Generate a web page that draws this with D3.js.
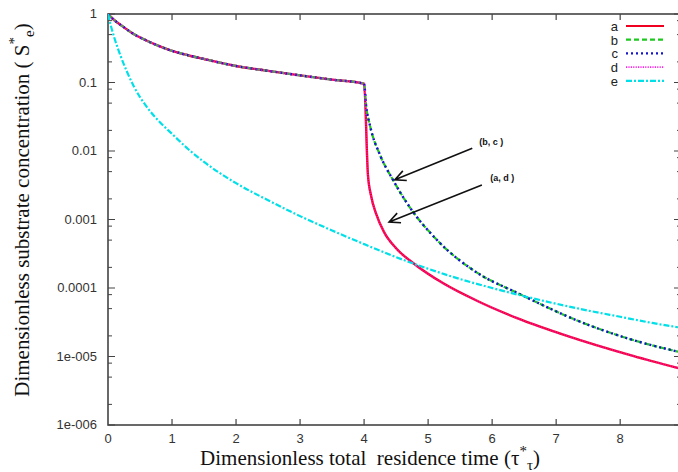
<!DOCTYPE html>
<html>
<head>
<meta charset="utf-8">
<script src="https://cdn.jsdelivr.net/npm/d3@7"></script>
<style>
    body { margin: 0; background: #fff; }
    svg { display: block; }
    .tick-label { font-family: "Liberation Sans", Arial, sans-serif; font-size: 13px; fill: #333; }
    .axis-title { font-family: "Liberation Serif", "Times New Roman", serif; font-size: 21px; fill: #111; }
    .note { font-family: "Liberation Sans", Arial, sans-serif; font-size: 9px; font-weight: bold; fill: #111; }
</style>
</head>
<body>
<div id="chart"></div>
<script>
// x tick values and y tick values / labels
var xTicks = [0, 1, 2, 3, 4, 5, 6, 7, 8];
var yTicks = [1, 0.1, 0.01, 0.001, 0.0001, 1e-5, 1e-6];
var yTickLabels = ["1", "0.1", "0.01", "0.001", "0.0001", "1e-005", "1e-006"];

// curves a and d (same values), b and c (same values)
var tauAD = [0, 0.1, 0.2, 0.4, 0.6, 0.8, 1.0, 1.25, 1.5, 2.0, 2.5, 3.0, 3.5, 4.0,
    4.06, 4.11, 4.19, 4.31, 4.5, 4.77, 5.23, 5.77, 6.39, 7.17, 8.2, 8.95];
var sAD = [1, 0.81, 0.69, 0.51, 0.41, 0.34, 0.29, 0.25, 0.22, 0.174, 0.148, 0.127, 0.11, 0.096,
    0.0045, 0.0022, 0.0012, 0.00066, 0.00038, 0.00023, 0.000118, 0.0000646, 0.0000363, 0.00002, 0.0000102, 0.0000066];

var tauBC = [0, 0.1, 0.2, 0.4, 0.6, 0.8, 1.0, 1.25, 1.5, 2.0, 2.5, 3.0, 3.5, 4.0,
    4.03, 4.09, 4.25, 4.45, 4.72, 5.14, 5.77, 6.39, 7.42, 8.2, 8.95];
var sBC = [1, 0.81, 0.69, 0.51, 0.41, 0.34, 0.29, 0.25, 0.22, 0.174, 0.148, 0.127, 0.11, 0.096,
    0.047, 0.024, 0.0087, 0.0038, 0.00148, 0.0005, 0.000166, 0.000085, 0.000031, 0.0000174, 0.0000115];

// curve e
var tauE = [0, 0.05, 0.1, 0.2, 0.3, 0.4, 0.6, 0.8, 1.0, 1.25, 1.5, 2.0, 2.5, 3.0, 3.5, 4.0,
    4.5, 5.0, 5.5, 6.0, 6.5, 7.0, 7.5, 8.0, 8.5, 8.95];
var sE = [1, 0.646, 0.447, 0.24, 0.141, 0.0891, 0.0447, 0.0269, 0.0178, 0.0107, 0.00692, 0.00339, 0.00191, 0.00112, 0.000692, 0.000437,
    0.000282, 0.000191, 0.000135, 0.0001, 0.0000759, 0.0000589, 0.0000468, 0.000038, 0.0000309, 0.0000263];

var seriesNames = ["a", "b", "c", "d", "e"];

// arrow annotations: [tail tau, tail S, tip tau, tip S], label position
var arrowBC = [5.69, 0.011, 4.48, 0.0038];
var arrowAD = [5.84, 0.0032, 4.39, 0.00092];
var labelBC = [5.8, 0.0135, "(b, c )"];
var labelAD = [5.97, 0.0041, "(a, d )"];

drawChart("chart");

function zip(xs, ys) {
    return xs.map((x, i) => ({ t: x, s: ys[i] }));
}

function drawChart(chartID) {
    var W = 678, H = 472;
    var margin = { top: 14, right: -3, bottom: 47, left: 108 };
    var width = W - margin.left - margin.right;
    var height = H - margin.top - margin.bottom;

    var svg = d3.select("#" + chartID)
        .append("svg")
        .attr("width", W)
        .attr("height", H);

    var g = svg.append("g")
        .attr("transform", "translate(" + margin.left + "," + margin.top + ")");

    var x = d3.scaleLinear().domain([0, 8.95]).range([0, width]);
    var y = d3.scaleLog().domain([1e-6, 1]).range([height, 0]);

    // minor ticks for log axis: 2, 5 and 8 in each decade
    var minor = [];
    yTicks.slice(1).forEach(function (v) {
        [2, 5, 8].forEach(function (m) { minor.push(v * m); });
    });

    var axisColor = "#444";

    // y ticks (left, inward) + mirrored on the right
    g.selectAll(".ymajor").data(yTicks).enter().append("path")
        .attr("d", d => "M0," + y(d) + "h7M" + width + "," + y(d) + "h-7")
        .attr("stroke", axisColor).attr("stroke-width", 1.2);
    g.selectAll(".yminor").data(minor).enter().append("path")
        .attr("d", d => "M0," + y(d) + "h4M" + width + "," + y(d) + "h-4")
        .attr("stroke", axisColor).attr("stroke-width", 1);

    // x ticks (bottom and top, inward)
    g.selectAll(".xmajor").data(xTicks.slice(1)).enter().append("path")
        .attr("d", d => "M" + x(d) + "," + height + "v-6M" + x(d) + ",0v6")
        .attr("stroke", axisColor).attr("stroke-width", 1.2);

    // border
    g.append("rect")
        .attr("width", width).attr("height", height)
        .attr("fill", "none").attr("stroke", axisColor).attr("stroke-width", 1.6);

    // tick labels
    g.selectAll(".ylab").data(yTicks).enter().append("text")
        .attr("class", "tick-label")
        .attr("x", -11).attr("y", d => y(d) + 4)
        .attr("text-anchor", "end")
        .text((d, i) => yTickLabels[i]);

    g.selectAll(".xlab").data(xTicks).enter().append("text")
        .attr("class", "tick-label")
        .attr("x", d => x(d)).attr("y", height + 18)
        .attr("text-anchor", "middle")
        .text(d => d);

    // curves
    var clipId = "plot-clip";
    svg.append("clipPath").attr("id", clipId)
        .append("rect").attr("width", width).attr("height", height);

    var line = d3.line()
        .x(d => x(d.t))
        .y(d => y(d.s))
        .curve(d3.curveMonotoneX);

    var styles = {
        a: { data: zip(tauAD, sAD), color: "#f00020", w: 2.4, dash: null },
        b: { data: zip(tauBC, sBC), color: "#1ec81e", w: 2.2, dash: "5,3" },
        c: { data: zip(tauBC, sBC), color: "#1414c8", w: 2.4, dash: "2,3" },
        d: { data: zip(tauAD, sAD), color: "#ff22ee", w: 2.2, dash: "1.2,1.2" },
        e: { data: zip(tauE, sE), color: "#00e0e8", w: 2.2, dash: "6,2,2,2" }
    };

    var plot = g.append("g").attr("clip-path", "url(#" + clipId + ")");
    seriesNames.forEach(function (name) {
        var st = styles[name];
        plot.append("path")
            .datum(st.data)
            .attr("d", line)
            .attr("fill", "none")
            .attr("stroke", st.color)
            .attr("stroke-width", st.w)
            .attr("stroke-opacity", name == "d" ? 0.6 : 1)
            .attr("stroke-dasharray", st.dash);
    });

    // legend
    var legend = svg.append("g");
    seriesNames.forEach(function (name, i) {
        var st = styles[name];
        var ly = 26 + i * 13.7;
        legend.append("text")
            .attr("class", "tick-label")
            .attr("x", 618).attr("y", ly + 5)
            .attr("text-anchor", "end")
            .style("fill", "#222")
            .text(name);
        legend.append("line")
            .attr("x1", 626).attr("x2", 664)
            .attr("y1", ly).attr("y2", ly)
            .attr("stroke", st.color)
            .attr("stroke-width", name == "d" ? 1.6 : 2.2)
            .attr("stroke-dasharray", st.dash);
    });

    // arrows with labels
    [arrowBC, arrowAD].forEach(function (a) {
        var x0 = x(a[0]), y0 = y(a[1]), x1 = x(a[2]), y1 = y(a[3]);
        var ang = Math.atan2(y0 - y1, x0 - x1);
        var len = 12, spread = 0.45;
        var p1 = [x1 + len * Math.cos(ang + spread), y1 + len * Math.sin(ang + spread)];
        var p2 = [x1 + len * Math.cos(ang - spread), y1 + len * Math.sin(ang - spread)];
        g.append("path")
            .attr("d", "M" + x0 + "," + y0 + "L" + x1 + "," + y1 +
                "M" + p1[0] + "," + p1[1] + "L" + x1 + "," + y1 + "L" + p2[0] + "," + p2[1])
            .attr("fill", "none")
            .attr("stroke", "#111")
            .attr("stroke-width", 1.6);
    });
    [labelBC, labelAD].forEach(function (l) {
        g.append("text")
            .attr("class", "note")
            .attr("x", x(l[0])).attr("y", y(l[1]) + 3)
            .text(l[2]);
    });

    // axis titles
    var xt = svg.append("text")
        .attr("class", "axis-title")
        .attr("x", 370).attr("y", 465)
        .attr("text-anchor", "middle")
        .attr("xml:space", "preserve");
    xt.append("tspan").text("Dimensionless total  residence time (\u03c4");
    xt.append("tspan").attr("dy", -9).style("font-size", "15px").text("*");
    xt.append("tspan").attr("dy", 14).style("font-size", "15px").text("\u03c4");
    xt.append("tspan").attr("dy", -5).text(")");

    var yt = svg.append("text")
        .attr("class", "axis-title")
        .attr("transform", "translate(29,210) rotate(-90)")
        .attr("text-anchor", "middle")
        .attr("xml:space", "preserve");
    yt.append("tspan").text("Dimensionless substrate concentration ( S");
    yt.append("tspan").attr("dy", -10).style("font-size", "15px").text("*");
    yt.append("tspan").attr("dy", 15).style("font-size", "15px").text("e");
    yt.append("tspan").attr("dy", -5).text(")");
}
</script>
</body>
</html>
